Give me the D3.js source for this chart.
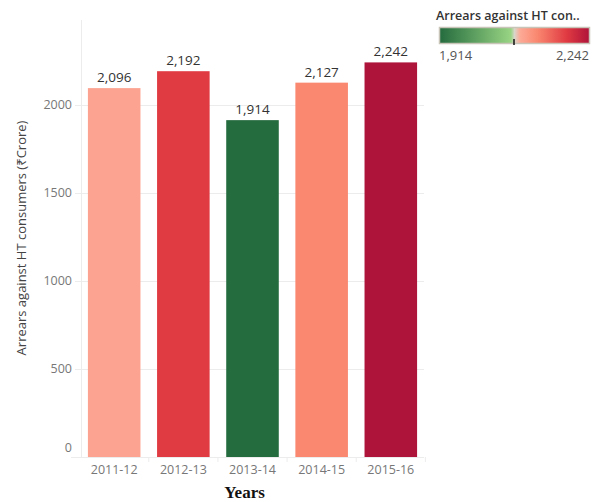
<!DOCTYPE html>
<html>
<head>
<meta charset="utf-8">
<script src="https://cdn.jsdelivr.net/npm/d3@7"></script>
<style>
  body { margin: 0; background: #fff; font-family: "Open Sans", "Noto Sans", sans-serif; }
  .axis text { fill: #777; font-size: 12.5px; }
  .grid line { stroke: #ececec; }
</style>
</head>
<body>
<div id="chart"></div>
<script>
var years = ["2011-12", "2012-13", "2013-14", "2014-15", "2015-16"];
var arrears = [2096, 2192, 1914, 2127, 2242];
var yTicks = [0, 500, 1000, 1500, 2000];

/* diverging palette stops, green = low, red = high */
var colorStops = [1914, 2070, 2078, 2090, 2127, 2192, 2242];
var colorRange = ["#246b3e", "#98d483", "#d8d6ca", "#fcaa97", "#fa8870", "#e03a42", "#ae1339"];

var W = 603, H = 502;
var margin = {left: 81, top: 25, right: 179, bottom: 45};
var width = W - margin.left - margin.right,
    height = H - margin.top - margin.bottom;

var svg = d3.select("#chart").append("svg")
    .attr("width", W)
    .attr("height", H);

var g = svg.append("g")
    .attr("transform", "translate(" + margin.left + "," + margin.top + ")");

var x = d3.scaleBand().domain(years).range([0, width]).paddingInner(0.24).paddingOuter(0.1),
    y = d3.scaleLinear().domain([0, 2500]).range([432, 432 - 2500 * 0.176]);

var color = d3.scaleLinear().domain(colorStops).range(colorRange);

/* gridlines */
g.append("g").attr("class", "grid")
  .selectAll("line").data(yTicks.slice(1)).enter().append("line")
    .attr("x1", 0).attr("x2", width)
    .attr("y1", function(d) { return y(d) + 0.5; })
    .attr("y2", function(d) { return y(d) + 0.5; });

g.append("line")
    .attr("x1", 0.5).attr("x2", 0.5)
    .attr("y1", -5).attr("y2", y(0))
    .attr("stroke", "#ececec");

/* y axis labels */
var gY = g.append("g").attr("class", "axis");
gY.selectAll("text").data(yTicks).enter().append("text")
    .attr("x", -9)
    .attr("y", function(d) { return d === 0 ? y(d) - 9 : y(d); })
    .attr("dy", "0.35em")
    .attr("text-anchor", "end")
    .text(function(d) { return d; });
gY.selectAll("line").data(yTicks.slice(1)).enter().append("line")
    .attr("x1", -6).attr("x2", 0)
    .attr("y1", function(d) { return y(d) + 0.5; })
    .attr("y2", function(d) { return y(d) + 0.5; })
    .attr("stroke", "#ececec");

/* bars */
g.selectAll(".bar").data(arrears).enter().append("rect")
    .attr("class", "bar")
    .attr("x", function(d, i) { return x(years[i]); })
    .attr("y", function(d) { return y(d); })
    .attr("width", x.bandwidth())
    .attr("height", function(d) { return y(0) - y(d); })
    .attr("fill", function(d) { return color(d); });

g.selectAll(".lbl").data(arrears).enter().append("text")
    .attr("class", "lbl")
    .attr("x", function(d, i) { return x(years[i]) + x.bandwidth() / 2; })
    .attr("y", function(d) { return y(d) - 6; })
    .attr("text-anchor", "middle")
    .attr("fill", "#333")
    .style("font-size", "13.5px")
    .text(function(d) { return d3.format(",")(d); });

/* x axis */
var gX = g.append("g").attr("class", "axis")
    .attr("transform", "translate(0," + y(0) + ")");
gX.append("line").attr("x1", -10).attr("x2", width)
    .attr("y1", 0.5).attr("y2", 0.5).attr("stroke", "#ececec");
gX.selectAll(".sep").data(years).enter().append("line")
    .attr("class", "sep")
    .attr("x1", function(d) { return x(d) + x.bandwidth() + x.step() * x.paddingInner() / 2; })
    .attr("x2", function(d) { return x(d) + x.bandwidth() + x.step() * x.paddingInner() / 2; })
    .attr("y1", 0).attr("y2", 5)
    .attr("stroke", "#ececec");
gX.selectAll("text").data(years).enter().append("text")
    .attr("x", function(d) { return x(d) + x.bandwidth() / 2; })
    .attr("y", 17)
    .attr("text-anchor", "middle")
    .text(function(d) { return d; });

svg.append("text")
    .attr("x", margin.left + width / 2 - 8)
    .attr("y", 498)
    .attr("text-anchor", "middle")
    .style("font-family", "'Liberation Serif', 'DejaVu Serif', serif")
    .style("font-weight", "bold")
    .style("font-size", "17px")
    .attr("fill", "#111")
    .text("Years");

svg.append("text")
    .attr("transform", "translate(26,238) rotate(-90)")
    .attr("text-anchor", "middle")
    .attr("fill", "#444")
    .style("font-size", "13px")
    .text("Arrears against HT consumers (\u20b9Crore)");

/* legend */
var lg = svg.append("g").attr("transform", "translate(439,0)");
var lw = 150, lh = 16;
lg.append("text")
    .attr("x", -3).attr("y", 20)
    .attr("fill", "#333")
    .style("font-size", "12.5px")
    .style("font-weight", "600")
    .text("Arrears against HT con..");

var defs = svg.append("defs");
var grad = defs.append("linearGradient").attr("id", "lgrad");
colorStops.forEach(function(v, i) {
  grad.append("stop")
    .attr("offset", (v - colorStops[0]) / (colorStops[colorStops.length - 1] - colorStops[0]))
    .attr("stop-color", colorRange[i]);
});
lg.append("rect")
    .attr("x", 0.5).attr("y", 27.5)
    .attr("width", lw).attr("height", lh)
    .attr("fill", "url(#lgrad)")
    .attr("stroke", "#c8c4b8").attr("stroke-width", 1.5);
var lx = d3.scaleLinear().domain([1914, 2242]).range([0, lw]);
lg.append("line")
    .attr("x1", lx(2078)).attr("x2", lx(2078))
    .attr("y1", 39).attr("y2", 45)
    .attr("stroke", "#111").attr("stroke-width", 1.5);
lg.append("text")
    .attr("x", 0).attr("y", 60)
    .attr("fill", "#555").style("font-size", "13px")
    .text("1,914");
lg.append("text")
    .attr("x", lw).attr("y", 60)
    .attr("text-anchor", "end")
    .attr("fill", "#555").style("font-size", "13px")
    .text("2,242");
</script>
</body>
</html>
